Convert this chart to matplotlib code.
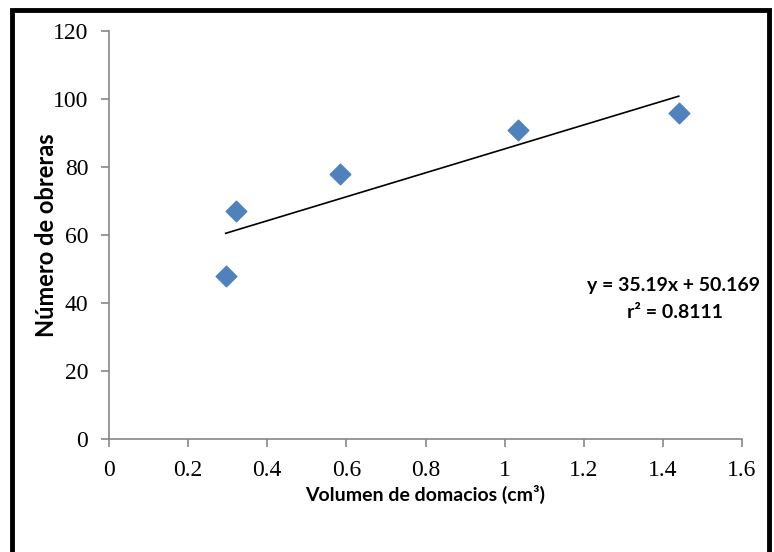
import numpy as np
import matplotlib.pyplot as plt
from matplotlib.patches import Rectangle

# Datos
volumen = [0.295, 0.32, 0.585, 1.035, 1.44]
obreras = [48, 67, 78, 91, 96]
x_ticks = [0, 0.2, 0.4, 0.6, 0.8, 1, 1.2, 1.4, 1.6]
y_ticks = [0, 20, 40, 60, 80, 100, 120]

label_font = ['Lato', 'DejaVu Sans']
tick_font = ['Liberation Serif', 'DejaVu Serif']
gris = '#868686'

fig = plt.figure(figsize=(7.74, 5.52), dpi=100)
ax = fig.add_axes([0.1408, 0.2047, 0.8179, 0.7391])

# Línea de tendencia (regresión lineal)
x = np.array(volumen)
y = np.array(obreras)
pend, inter = np.polyfit(x, y, 1)
xx = np.array([x.min(), x.max()])
ax.plot(xx, pend * xx + inter, color='black', lw=1.2, zorder=2)

ax.scatter(volumen, obreras, marker='D', s=110, color='#4F81BD',
           edgecolors='#4F81BD', zorder=3)

ax.set_xlim(0, 1.6)
ax.set_ylim(0, 120)
ax.set_xticks(x_ticks)
ax.set_yticks(y_ticks)
ax.set_xticklabels(['0', '0.2', '0.4', '0.6', '0.8', '1', '1.2', '1.4', '1.6'])

for s in ['top', 'right']:
    ax.spines[s].set_visible(False)
for s in ['left', 'bottom']:
    ax.spines[s].set_color(gris)
    ax.spines[s].set_linewidth(1.2)
ax.tick_params(direction='out', length=6, width=1.2, color=gris, pad=9)
for lab in ax.get_xticklabels() + ax.get_yticklabels():
    lab.set_family(tick_font)
    lab.set_fontsize(17)

ax.set_xlabel('Volumen de domacios (cm³)', family=label_font,
              fontsize=14, fontweight='bold', labelpad=3)
ax.set_ylabel('Número de obreras', family=label_font,
              fontsize=17, fontweight='bold', labelpad=-4)

ax.text(0.891, 0.377, 'y = 35.19x + 50.169', transform=ax.transAxes,
        ha='center', va='center', family=label_font, fontsize=14, fontweight='bold')
ax.text(0.894, 0.311, 'r² = 0.8111', transform=ax.transAxes,
        ha='center', va='center', family=label_font, fontsize=14, fontweight='bold')

# Marco negro alrededor de la figura
fig.patches.append(Rectangle((12 / 774, -0.05), 757 / 774, 1.05 - 10 / 552,
                             transform=fig.transFigure, fill=False,
                             edgecolor='black', lw=3.5, clip_on=False))

fig.savefig('out.png', dpi=100)
